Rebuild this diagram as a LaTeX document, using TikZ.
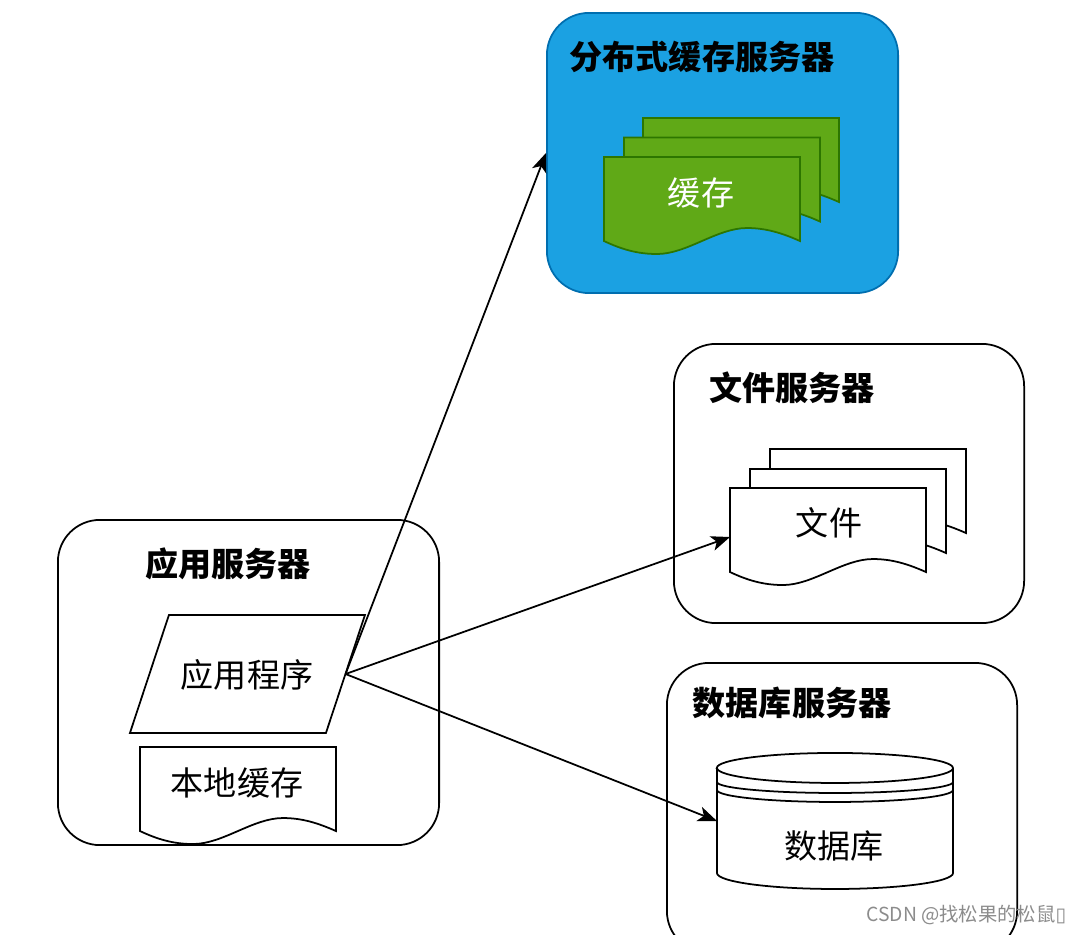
\documentclass[tikz,border=0pt]{standalone}
\usepackage{fontspec}
\setmainfont{Noto Sans CJK SC}
\newfontfamily\symfont{DejaVu Sans}
\usetikzlibrary{positioning, arrows.meta, shapes.geometric}
\definecolor{serverblue}{HTML}{1BA1E2}
\definecolor{serverblueline}{HTML}{006EAF}
\definecolor{cachegreen}{HTML}{60A917}
\definecolor{cachegreenline}{HTML}{2D7600}
\tikzset{
  serverbox/.style={draw, rectangle, rounded corners=0.42cm, line width=0.5pt, fill=white, inner sep=0pt},
  servertitle/.style={font=\fontsize{9.4}{11}\selectfont\bfseries, inner sep=0pt},
  bodytext/.style={font=\fontsize{9.4}{11}\selectfont, inner sep=0pt},
  docbox/.style={rectangle, minimum width=1.96cm, minimum height=0.84cm, inner sep=0pt, outer sep=0pt},
  plaindoc/.style={draw, fill=white, line width=0.5pt},
  greendoc/.style={draw=cachegreenline, fill=cachegreen, line width=0.5pt},
  flowarrow/.style={->, line width=0.5pt},
  watermark/.style={font=\fontsize{5.5}{6}\selectfont, text=black!45, inner sep=0pt}
}
\newcommand{\docpage}[3]{
  \node[docbox] (#1) at (#2) {};
  \begin{scope}[shift={(#1.south west)}]
    \draw[#3] (0,0) -- (0,-84) -- (196,-84) -- (196,0)
      .. controls (178,-8) and (162,-13) .. (143,-13)
      .. controls (113,-13) and (83,13) .. (53,13)
      .. controls (33,13) and (17,8) .. (0,0) -- cycle;
  \end{scope}
}
\begin{document}
\begin{tikzpicture}[x=0.01cm, y=-0.01cm, >={Stealth[length=1.9mm,width=1.5mm,inset=0.5mm]}]
    \useasboundingbox (0,0) rectangle (1080,934);
    \clip (0,0) rectangle (1080,934);

    % servers
    \node[serverbox, draw=serverblueline, fill=serverblue, minimum width=3.51cm, minimum height=2.80cm] (cacheserver) at (722.5,153) {};
    \node[serverbox, minimum width=3.50cm, minimum height=2.79cm] (fileserver) at (849,483.5) {};
    \node[serverbox, minimum width=3.50cm, minimum height=2.90cm] (dbserver) at (842,808) {};
    \node[serverbox, minimum width=3.81cm, minimum height=3.25cm] (appserver) at (248.5,682.5) {};

    \node[servertitle] (cachetitle) at (702,57) {分布式缓存服务器};
    \node[servertitle] (filetitle) at (792,388) {文件服务器};
    \node[servertitle] (dbtitle) at (792,703) {数据库服务器};
    \node[servertitle] (apptitle) at (228,564) {应用服务器};

    % cache pages
    \docpage{cacheback}{741,160}{greendoc}
    \docpage{cachemid}{722,179.5}{greendoc}
    \docpage{cachefront}{702,199}{greendoc}
    \node[bodytext, text=white] (cachetext) at (701,193) {缓存};

    % file pages
    \docpage{fileback}{868,491}{plaindoc}
    \docpage{filemid}{848,511}{plaindoc}
    \docpage{filefront}{828,530}{plaindoc}
    \node[bodytext] (filetext) at (829,523) {文件};

    % database
    \node[rectangle, minimum width=2.36cm, minimum height=1.36cm, inner sep=0pt, outer sep=0pt] (database) at (835,821) {};
    \begin{scope}[shift={(database.north west)}, line width=0.5pt]
      \draw[fill=white] (0,15) -- (0,120) arc[start angle=180, end angle=360, x radius=1.18cm, y radius=0.16cm]
        -- (236,15) arc[start angle=0, end angle=180, x radius=1.18cm, y radius=0.15cm] -- cycle;
      \draw (0,15) arc[start angle=180, end angle=360, x radius=1.18cm, y radius=0.15cm];
      \draw (0,29) arc[start angle=180, end angle=360, x radius=1.18cm, y radius=0.11cm];
      \draw (0,37) arc[start angle=180, end angle=360, x radius=1.18cm, y radius=0.12cm];
    \end{scope}
    \node[bodytext] (dbtext) at (834,846) {数据库};

    % application server
    \node[rectangle, minimum width=1.96cm, minimum height=1.18cm, inner sep=0pt, outer sep=0pt] (appshape) at (247.5,674) {};
    \begin{scope}[shift={(appshape.north west)}]
      \draw[plaindoc] (19.5,0) -- (215.5,0) -- (176.5,118) -- (-19.5,118) -- cycle;
    \end{scope}
    \node[bodytext] (apptext) at (247,675) {应用程序};
    \docpage{localcache}{238,789}{plaindoc}
    \node[bodytext] (localtext) at (237,783) {本地缓存};

    \coordinate (fileport) at (730,537);
    \draw[flowarrow] (appshape.east) -- (cacheserver.west);
    \draw[flowarrow] (appshape.east) -- (fileport);
    \draw[flowarrow] (appshape.east) -- (database.west);

    \node[watermark, anchor=east] (stamp) at (1067,915) {CSDN @找松果的松鼠{\symfont ▯}};
  \end{tikzpicture}
\end{document}
